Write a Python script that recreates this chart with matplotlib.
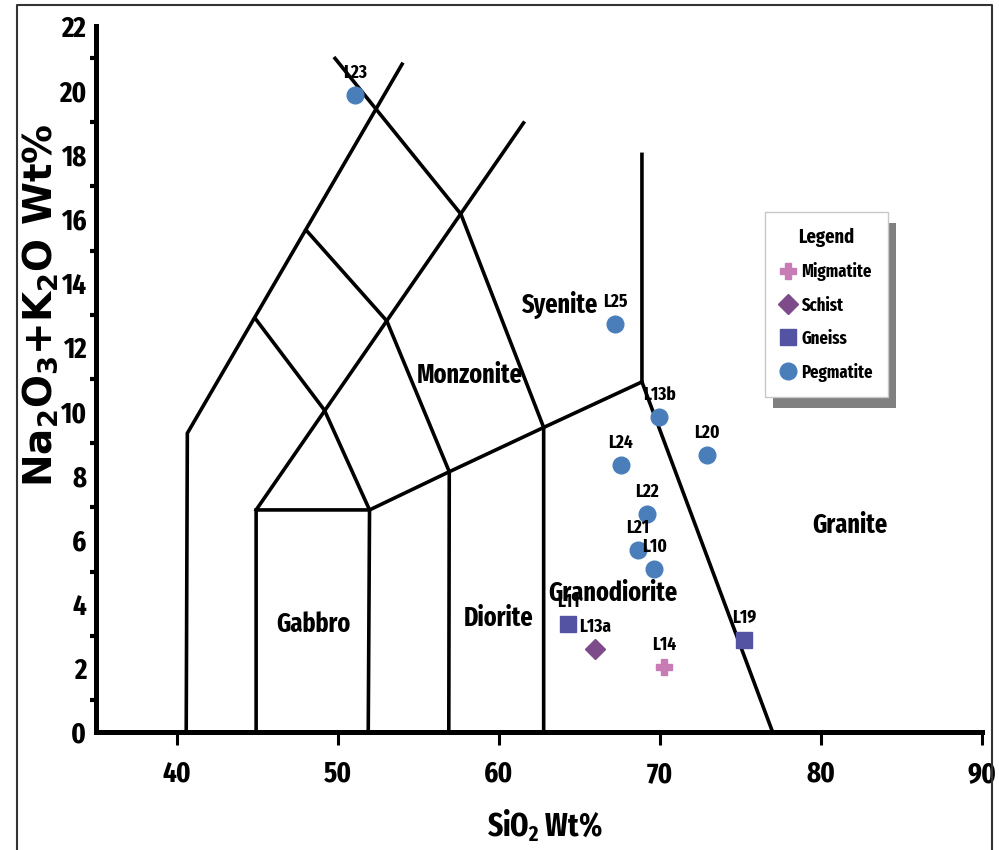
import matplotlib
matplotlib.use("Agg")
import matplotlib.pyplot as plt
from matplotlib.lines import Line2D
from matplotlib.patches import Rectangle
from matplotlib.transforms import IdentityTransform

plt.rcParams['font.family'] = ['Fira Sans Extra Condensed', 'Liberation Sans']
plt.rcParams['font.weight'] = 'bold'
plt.rcParams['mathtext.default'] = 'regular'

# field boundaries of the plutonic TAS diagram (SiO2, Na2O+K2O)
boundaries = [
    ([40.6, 40.67, 54.0], [0, 9.31, 20.81]),
    ([44.94, 44.94, 51.98, 56.93, 62.79, 68.89, 68.89], [0, 6.92, 6.92, 8.11, 9.49, 10.91, 18.0]),
    ([44.94, 61.54], [6.92, 18.98]),
    ([44.88, 49.18, 51.98, 51.9], [12.89, 10.03, 6.92, 0]),
    ([48.04, 53.05, 56.93, 56.9], [15.64, 12.81, 8.11, 0]),
    ([49.84, 57.65, 62.79, 62.79], [20.99, 16.14, 9.49, 0]),
    ([68.89, 77.0], [10.91, 0]),
]

fields = ['Syenite', 'Monzonite', 'Granite', 'Granodiorite', 'Diorite', 'Gabbro']
field_x = [63.8, 58.2, 81.8, 67.1, 60.0, 48.5]
field_y = [13.3, 11.1, 6.45, 4.33, 3.55, 3.36]

# samples
peg_lab = ['L23', 'L25', 'L13b', 'L24', 'L20', 'L22', 'L21', 'L10']
peg_x = [51.09, 67.24, 69.97, 67.59, 72.95, 69.20, 68.65, 69.66]
peg_y = [19.84, 12.70, 9.82, 8.32, 8.64, 6.78, 5.67, 5.08]

gneiss_lab = ['L11', 'L19']
gneiss_x = [64.30, 75.25]
gneiss_y = [3.36, 2.87]

schist_lab = ['L13a']
schist_x = [65.99]
schist_y = [2.59]

mig_lab = ['L14']
mig_x = [70.28]
mig_y = [2.02]

fig = plt.figure(figsize=(9.99, 8.5), dpi=100)
ax = fig.add_axes([96/999, 1-732/850, 886/999, 706/850])

for bx, by in boundaries:
    ax.plot(bx, by, color='black', lw=2.6, solid_joinstyle='miter', clip_on=False, zorder=2)

for name, fx, fy in zip(fields, field_x, field_y):
    ax.text(fx, fy, name, fontsize=19, ha='center', va='center', zorder=6)

series = [
    (mig_lab, mig_x, mig_y, 'P', '#C77CB6', 12, 'Migmatite'),
    (schist_lab, schist_x, schist_y, 'D', '#7D4A8A', 10, 'Schist'),
    (gneiss_lab, gneiss_x, gneiss_y, 's', '#5352A3', 12, 'Gneiss'),
    (peg_lab, peg_x, peg_y, 'o', '#4A7EBB', 12, 'Pegmatite'),
]
handles = []
for labs, xs, ys, mk, col, ms, name in series:
    h, = ax.plot(xs, ys, ls='none', marker=mk, color=col, ms=ms, mec=col, label=name, zorder=4)
    handles.append(h)
    for lab, px, py in zip(labs, xs, ys):
        ax.annotate(lab, (px, py), xytext=(0, 16), textcoords='offset points',
                    ha='center', va='center', fontsize=13.5, zorder=5)

ax.set_xlim(35, 90)
ax.set_ylim(0, 22)
ax.set_xticks([40, 50, 60, 70, 80, 90])
ax.set_yticks(range(0, 23, 2))
ax.set_yticks(range(1, 22, 2), minor=True)
ax.tick_params(axis='x', which='major', length=9, width=2.2, pad=11, labelsize=21)
ax.tick_params(axis='y', which='major', length=0, pad=7, labelsize=21)
ax.tick_params(axis='y', which='minor', length=4, width=3)
ax.tick_params(axis='x', which='minor', length=0)

for s in ['top', 'right']:
    ax.spines[s].set_visible(False)
for s in ['left', 'bottom']:
    ax.spines[s].set_linewidth(3.6)

ax.set_xlabel('SiO$_2$ Wt%', fontsize=23, fontweight='bold', va='center')
ax.xaxis.set_label_coords(0.507, -0.133)
ax.set_ylabel('Na$_2$O$_3$+K$_2$O Wt%', fontsize=28, fontweight='bold', va='center',
              family=['DejaVu Sans'])
ax.yaxis.set_label_coords(-0.063, 0.605)

leg = ax.legend(handles=handles, title='Legend', loc='upper left',
                bbox_to_anchor=(765/999, 1-212/850), bbox_transform=fig.transFigure,
                borderaxespad=0, fancybox=False, framealpha=1, edgecolor='#c8c8c8',
                fontsize=13, title_fontsize=14.5, labelspacing=0.85, handlelength=0.8,
                handletextpad=0.35, borderpad=0.85)
leg.get_title().set_fontweight('bold')
leg.get_frame().set_linewidth(1)
leg.set_zorder(8)

fig.canvas.draw()
bb = leg.get_window_extent()
ax.add_patch(Rectangle((bb.x0 + 8, bb.y0 - 11), bb.width, bb.height, transform=IdentityTransform(),
                       facecolor='#808080', edgecolor='none', clip_on=False, zorder=7))

# outer frame
fig.add_artist(Line2D([17/999, 17/999, 992/999, 992/999], [0, 1-5/850, 1-5/850, 0],
                      transform=fig.transFigure, color='#333333', lw=1.5))

fig.savefig('out.png', dpi=100)
